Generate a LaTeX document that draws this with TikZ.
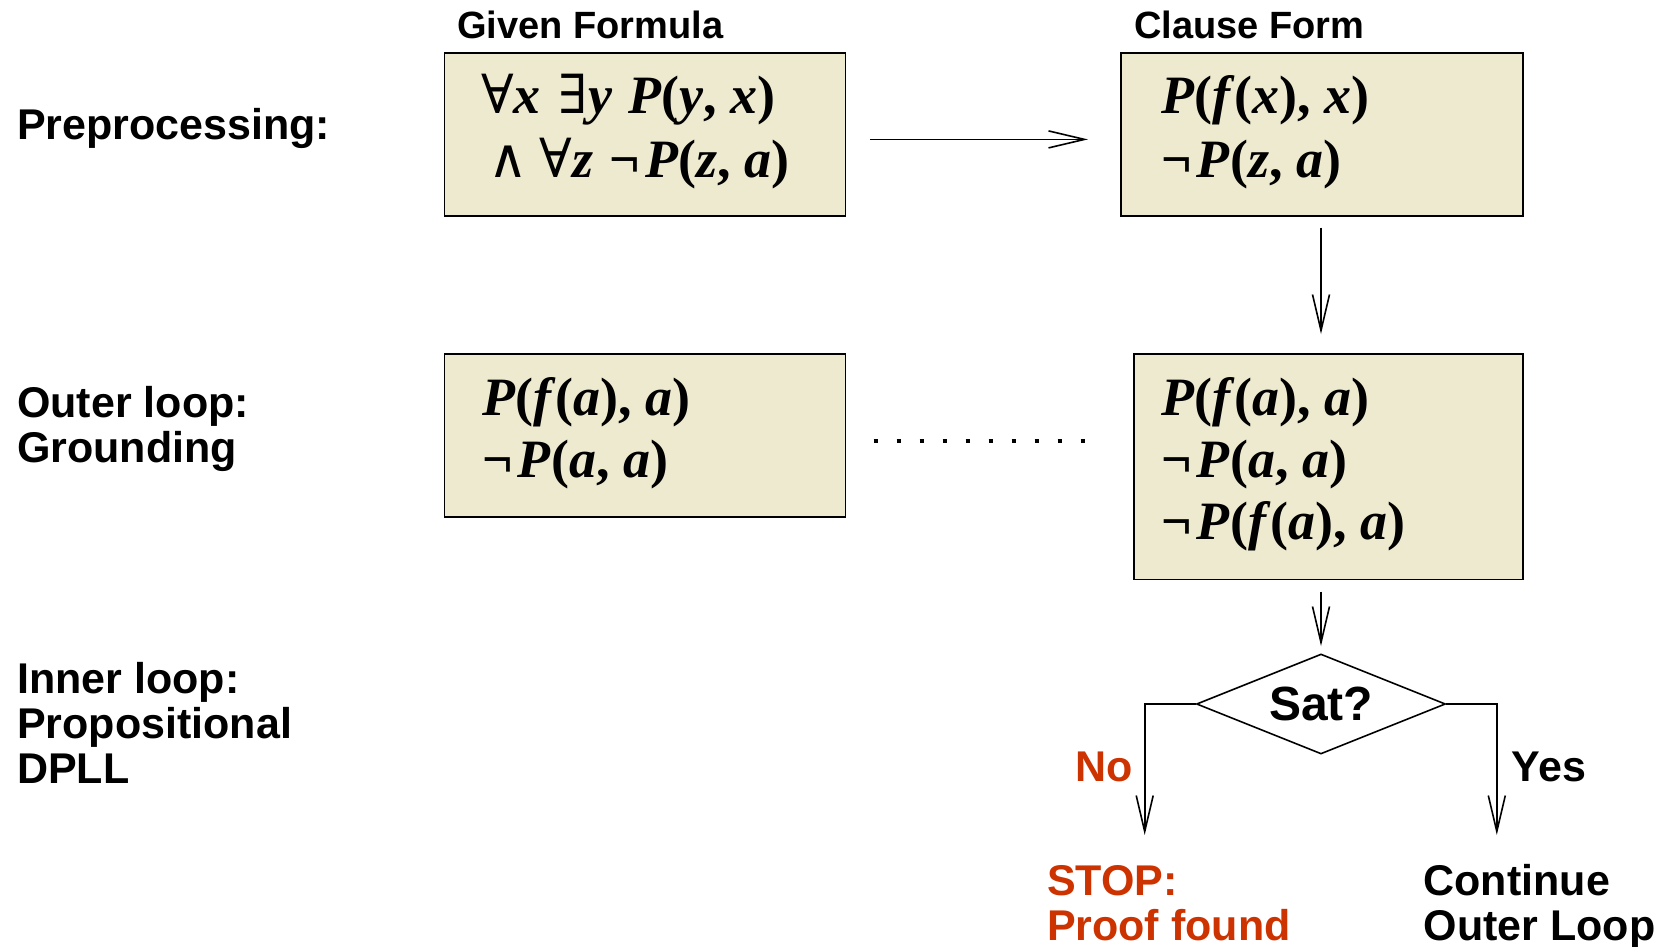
\documentclass[tikz,border=0pt]{standalone}
\usepackage{fontspec}
\setmainfont{Liberation Sans}
\newfontfamily\formfont{Liberation Serif}
\newfontfamily\quantfont{DejaVu Serif}
\usetikzlibrary{arrows.meta,shapes.geometric}
\definecolor{boxfill}{RGB}{238,234,208}
\definecolor{stopred}{RGB}{204,51,0}
% italic formula letters and logical symbols
\newcommand\fv[1]{\textit{#1}}
\newcommand\qs[1]{{\quantfont\mdseries\upshape #1}}
\newcommand\negsym{¬\kern5pt}
\tikzset{
  lab/.style={anchor=base west, inner sep=0pt, font=\fontsize{43}{45}\selectfont\bfseries, align=left},
  head/.style={anchor=base west, inner sep=0pt, font=\fontsize{38}{40}\selectfont\bfseries},
  formula/.style={anchor=base west, inner sep=0pt, font=\fontsize{54}{60}\selectfont\formfont\bfseries},
  formbox/.style={draw, line width=1.6pt, fill=boxfill, anchor=north west, inner sep=0pt},
  flow/.style={line width=1.6pt, -{Straight Barb[length=36pt,width=17pt,line width=1.6pt]}},
  satbox/.style={draw, line width=1.6pt, shape=diamond, minimum width=249pt, minimum height=100pt, inner sep=0pt, aspect=2.49, font=\fontsize{48}{50}\selectfont\bfseries}
}
\begin{document}
\begin{tikzpicture}[x=1pt, y=-1pt]
\useasboundingbox (0,0) rectangle (1668,946);

% row labels (base anchor sits on the last line)
\node[lab] (pre) at (17,139) {Preprocessing:};
\node[lab] (outer) at (17,462) {Outer loop:\\Grounding};
\node[lab] (inner) at (17,783) {Inner loop:\\Propositional\\DPLL};

% column headings
\node[head] (hgiven) at (457,38) {Given Formula};
\node[head] (hclause) at (1134,38) {Clause Form};

% formula boxes
\node[formbox, minimum width=401pt, minimum height=163pt] (given) at (443.6,52.1) {};
\node[formbox, minimum width=402pt, minimum height=163pt] (clause) at (1120.2,52.1) {};
\node[formbox, minimum width=401pt, minimum height=163pt] (ground) at (443.6,353.2) {};
\node[formbox, minimum width=389pt, minimum height=225.5pt] (groundall) at (1133,353.2) {};

% box contents
\node[formula] (g1) at (481,113) {\qs{∀}\fv{x}\hspace{18pt}\qs{∃}\fv{y}\hspace{16pt}\fv{P}(\fv{y}, \fv{x})};
\node[formula] (g2) at (488,177) {\qs{∧}\hspace{12pt}\qs{∀}\fv{z}\hspace{16pt}\negsym\fv{P}(\fv{z}, \fv{a})};
\node[formula] (c1) at (1161,113) {\fv{P}(\fv{f}(\fv{x}), \fv{x})};
\node[formula] (c2) at (1161,177) {\negsym\fv{P}(\fv{z}, \fv{a})};
\node[formula] (r1) at (482,415) {\fv{P}(\fv{f}(\fv{a}), \fv{a})};
\node[formula] (r2) at (482,477) {\negsym\fv{P}(\fv{a}, \fv{a})};
\node[formula] (s1) at (1161,415) {\fv{P}(\fv{f}(\fv{a}), \fv{a})};
\node[formula] (s2) at (1161,477) {\negsym\fv{P}(\fv{a}, \fv{a})};
\node[formula] (s3) at (1161,539) {\negsym\fv{P}(\fv{f}(\fv{a}), \fv{a})};

% connectors between the boxes
\coordinate (ha) at (870,139.4);
\coordinate (hb) at (1088,139.4);
\draw[flow] (ha) -- (hb);
\coordinate (va) at (1321,227.7);
\coordinate (vb) at (1321,334);
\draw[flow] (va) -- (vb);
\coordinate (da) at (873.7,441);
\coordinate (db) at (1085,441);
\draw[line width=4pt, dash pattern=on 4pt off 19pt] (da) -- (db);

% satisfiability test
\node[satbox] (sat) at (1321,704) {Sat?};
\coordinate (vc) at (1321,591.5);
\coordinate (vd) at (1321,646);
\draw[flow] (vc) -- (vd);
\coordinate (noend) at (1144.7,835);
\coordinate (yesend) at (1496.8,835);
\draw[flow] (sat.west) -| (noend);
\draw[flow] (sat.east) -| (yesend);

\node[lab, text=stopred] (no) at (1075.5,781) {No};
\node[lab] (yes) at (1511.7,781) {Yes};
\node[lab, text=stopred] (stop) at (1046.8,940) {STOP:\\Proof found};
\node[lab] (cont) at (1423.4,940) {Continue\\Outer Loop};
\end{tikzpicture}
\end{document}
